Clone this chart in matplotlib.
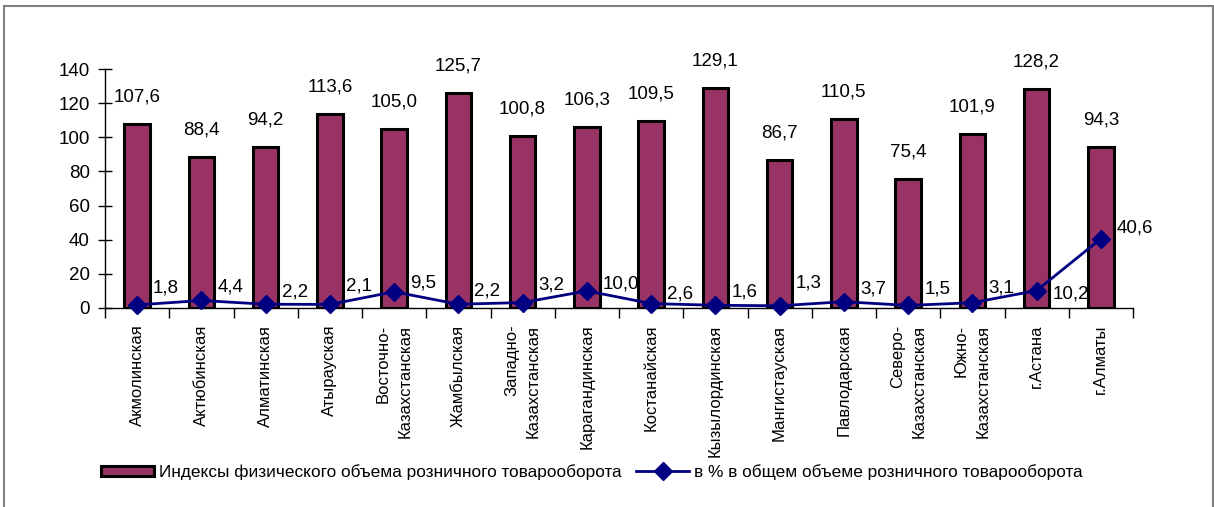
import matplotlib
matplotlib.use("Agg")
import matplotlib.pyplot as plt
from matplotlib.patches import Rectangle

plt.rcParams['font.family'] = ['Liberation Sans', 'DejaVu Sans']

categories = ["Акмолинская", "Актюбинская", "Алматинская", "Атырауская",
              "Восточно-\nКазахстанская", "Жамбылская", "Западно-\nКазахстанская",
              "Карагандинская", "Костанайская", "Кызылординская", "Мангистауская",
              "Павлодарская", "Северо-\nКазахстанская", "Южно-\nКазахстанская",
              "г.Астана", "г.Алматы"]
index_values = [107.6, 88.4, 94.2, 113.6, 105.0, 125.7, 100.8, 106.3,
                109.5, 129.1, 86.7, 110.5, 75.4, 101.9, 128.2, 94.3]
share_values = [1.8, 4.4, 2.2, 2.1, 9.5, 2.2, 3.2, 10.0,
                2.6, 1.6, 1.3, 3.7, 1.5, 3.1, 10.2, 40.6]
yticks = [0, 20, 40, 60, 80, 100, 120, 140]
series_names = ["Индексы физического объема розничного товарооборота",
                "в % в общем объеме розничного товарооборота"]

# label styling (pixel offsets of the line labels)
line_label_dy = [17, 13, 12, 18, 9, 13, 18, 7, 10, 13, 23, 13, 16, 15, -3, 11]

W, H = 1214, 507
fig = plt.figure(figsize=(W / 100, H / 100), dpi=100)
ax = fig.add_axes([105 / W, (H - 308) / H, (1133 - 105) / W, (308 - 69) / H])

x = list(range(len(categories)))
bar_color = "#993366"
line_color = "#000080"

bars = ax.bar(x, index_values, width=0.40, color=bar_color, edgecolor="black",
              linewidth=2.2, label=series_names[0], zorder=2)
line, = ax.plot(x, share_values, color=line_color, lw=2.0, marker="D",
                markersize=9, label=series_names[1], zorder=3, clip_on=False)

def fmt(v):
    return f"{v:.1f}".replace(".", ",")

for xi, v in zip(x, index_values):
    ax.annotate(fmt(v), (xi, v), xytext=(0, 27), textcoords="offset pixels",
                ha="center", va="center", fontsize=13.5, annotation_clip=False)
for xi, v, dy in zip(x, share_values, line_label_dy):
    ax.annotate(fmt(v), (xi, v), xytext=(16, dy), textcoords="offset pixels",
                ha="left", va="center", fontsize=13.5, annotation_clip=False,
                zorder=4)

ax.set_xlim(-0.5, len(categories) - 0.5)
ax.set_ylim(0, 140)
ax.set_yticks(yticks)
ax.set_yticklabels([str(t) for t in yticks], fontsize=13.5)
ax.tick_params(axis="y", direction="inout", length=10, width=1, pad=6)

ax.set_xticks(x)
ax.set_xticklabels(categories, rotation=90, fontsize=12, linespacing=1.55,
                   multialignment="right", va="top", ha="center")
ax.tick_params(axis="x", which="major", length=0, pad=12)
ax.set_xticks([i - 0.5 for i in range(len(categories) + 1)], minor=True)
ax.tick_params(axis="x", which="minor", direction="out", length=7, width=1)

for s in ["top", "right"]:
    ax.spines[s].set_visible(False)
for s in ["left", "bottom"]:
    ax.spines[s].set_linewidth(1.0)
    ax.spines[s].set_color("black")

fig.legend(handles=[bars, line], labels=series_names, loc="center",
           bbox_to_anchor=(592 / W, 1 - 472 / H), ncol=2, frameon=False,
           fontsize=12.4, handlelength=3.1, handleheight=0.55,
           handletextpad=0.3, columnspacing=0.8)

fig.patches.append(Rectangle((4 / W, -0.02), (1213 - 4) / W, 1.02 - 6 / H,
                             transform=fig.transFigure, fill=False,
                             edgecolor="#808080", linewidth=1.5))

fig.savefig("out.png", dpi=100)
